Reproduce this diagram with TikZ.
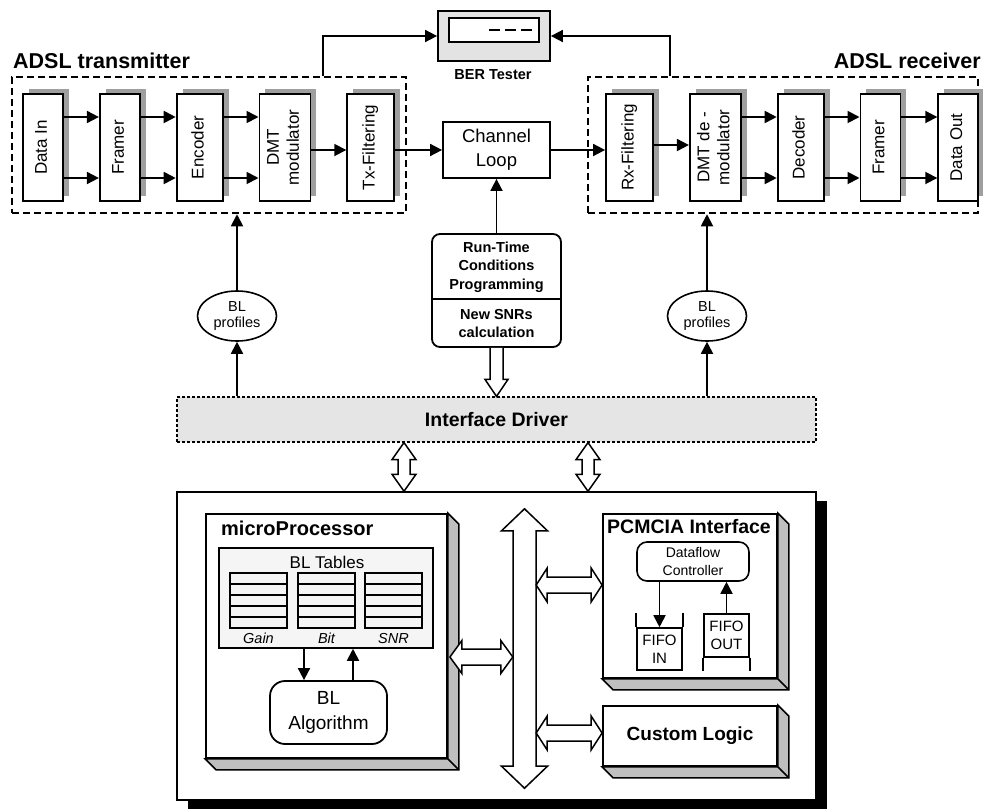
\documentclass[tikz,border=0pt]{standalone}
\usepackage{fontspec}
\setmainfont{Liberation Sans}
\usetikzlibrary{arrows.meta, calc, shadows, shapes.geometric, positioning}

% rotated, possibly two-line block text
\newcommand{\vtxt}[1]{\rotatebox{90}{\begin{tabular}{@{}c@{}}#1\end{tabular}}}

% gray side faces of a raised box
\newcommand{\extrude}[1]{%
  \draw[line width=1.5pt, fill=gray!50] (#1.north east) -- ++(11,11) -- ($(#1.south east)+(11,11)$)
    -- ($(#1.south west)+(11,11)$) -- (#1.south west) -- (#1.south east) -- cycle;
  \draw[line width=1.5pt] (#1.south east) -- ++(11,11);}

% hollow double arrow, vertical: half shaft, half head, head length, top end, bottom end
\newcommand{\fatv}[5]{%
  \draw[fat] let \p1=#4, \p2=#5 in
    (\x1,\y1) -- (\x1+#2,\y1-#3) -- (\x1+#1,\y1-#3) -- (\x1+#1,\y2+#3) -- (\x1+#2,\y2+#3)
    -- (\x1,\y2) -- (\x1-#2,\y2+#3) -- (\x1-#1,\y2+#3) -- (\x1-#1,\y1-#3) -- (\x1-#2,\y1-#3) -- cycle;}

% hollow double arrow, horizontal: left end, right end (height taken from the right end)
\newcommand{\fath}[5]{%
  \draw[fat] let \p1=#4, \p2=#5 in
    (\x1,\y2) -- (\x1+#3,\y2+#2) -- (\x1+#3,\y2+#1) -- (\x2-#3,\y2+#1) -- (\x2-#3,\y2+#2)
    -- (\x2,\y2) -- (\x2-#3,\y2-#2) -- (\x2-#3,\y2-#1) -- (\x1+#3,\y2-#1) -- (\x1+#3,\y2-#2) -- cycle;}

% hollow single arrow pointing down
\newcommand{\fatdown}[5]{%
  \draw[fat] let \p1=#4, \p2=#5 in
    (\x1-#1,\y1) -- (\x1-#1,\y2+#3) -- (\x1-#2,\y2+#3) -- (\x1,\y2) -- (\x1+#2,\y2+#3)
    -- (\x1+#1,\y2+#3) -- (\x1+#1,\y1);}

\tikzset{
  blk/.style={draw, line width=1.8pt, fill=white, inner sep=0pt, minimum height=107pt,
    general shadow={fill=gray!75, shadow xshift=6pt, shadow yshift=5pt},
    font=\fontsize{17}{20}\selectfont},
  grp/.style={draw, line width=2.5pt, dash pattern=on 7pt off 4pt, inner sep=0pt},
  arr/.style={line width=1.8pt, -{Triangle[length=12pt,width=12pt]}},
  fat/.style={draw, line width=1.5pt, fill=white},
  card/.style={draw, line width=1.8pt, fill=white, inner sep=0pt},
  ttl/.style={font=\bfseries\fontsize{20}{24}\selectfont, inner sep=0pt},
  bigttl/.style={font=\bfseries\fontsize{21.5}{24}\selectfont, inner sep=0pt},
  inbox/.style={draw, line width=1.6pt, inner sep=0pt, align=center},
  grid/.style={line width=1.6pt},
}

\begin{document}
\begin{tikzpicture}[x=1pt, y=-1pt]
  \useasboundingbox (0,0) rectangle (983,809);

  % Transmitter and receiver groups
  \node[grp, minimum width=394pt, minimum height=136pt] (tx) at (209,145) {};
  \node[grp, minimum width=390pt, minimum height=136pt] (rx) at (783,145) {};
  \node[bigttl, anchor=base west] (txl) at (13,68) {ADSL transmitter};
  \node[bigttl, anchor=base east] (rxl) at (981,68) {ADSL receiver};

  % Transmitter chain
  \node[blk, minimum width=40pt] (din) at (43,147.5) {\vtxt{Data In}};
  \node[blk, minimum width=40pt, right=35pt of din] (tfrm) {\vtxt{Framer}};
  \node[blk, minimum width=46pt, right=35pt of tfrm] (enc) {\vtxt{Encoder}};
  \node[blk, minimum width=51pt, right=35pt of enc] (mod) {\vtxt{DMT\\modulator}};
  \node[blk, minimum width=47pt, right=35pt of mod] (txf) {\vtxt{Tx-Filtering}};

  % Receiver chain
  \node[blk, minimum width=47pt] (rxf) at (629.5,147.5) {\vtxt{Rx-Filtering}};
  \node[blk, minimum width=51pt, right=35pt of rxf] (dem) {\vtxt{DMT de -\\modulator}};
  \node[blk, minimum width=46pt, right=35pt of dem] (dec) {\vtxt{Decoder}};
  \node[blk, minimum width=40pt, right=35pt of dec] (rfrm) {\vtxt{Framer}};
  \node[blk, minimum width=40pt, right=36pt of rfrm] (dout) {\vtxt{Data Out}};

  \coordinate (hi) at (0,117);
  \coordinate (lo) at (0,178);
  \coordinate (mid) at (0,150);
  \foreach \a/\b in {din/tfrm, tfrm/enc, enc/mod, dem/dec, dec/rfrm, rfrm/dout} {
    \draw[arr] (\a.east |- hi) -- (\b.west |- hi);
    \draw[arr] (\a.east |- lo) -- (\b.west |- lo);
  }
  \draw[arr] (mod.east |- mid) -- (txf.west |- mid);
  \draw[arr] (rxf.east |- 0,145) -- (dem.west |- 0,145);

  % BER tester
  \node[draw, line width=1.8pt, fill=gray!22, minimum width=112pt, minimum height=50pt] (ber) at (494,36) {};
  \node[draw, line width=1.6pt, fill=white, minimum width=90pt, minimum height=24pt] (disp) at (494,30) {};
  \draw[line width=1.6pt, dash pattern=on 11pt off 5pt] ([xshift=-5pt]disp.center) -- ([xshift=39pt]disp.center);
  \node[font=\bfseries\fontsize{14.5}{17}\selectfont] (berl) at (493,75) {BER Tester};
  \draw[arr] ([xshift=114pt]tx.north) |- (ber.west);
  \draw[arr] ([xshift=-113pt]rx.north) |- (ber.east);

  % Channel
  \node[card, minimum width=107pt, minimum height=56pt, align=center,
    font=\fontsize{18.5}{24}\selectfont] (chl) at (496.5,150) {Channel\\Loop};
  \draw[arr] (txf.east |- mid) -- (chl.west);
  \draw[arr] (chl.east) -- (rxf.west |- mid);

  % Run-time conditions
  \node[card, rounded corners=8pt, minimum width=129pt, minimum height=113pt] (rt) at (496.5,290.5) {};
  \draw[line width=1.6pt] (rt.west |- 0,299) -- (rt.east |- 0,299);
  \node[font=\bfseries\fontsize{14.5}{18.5}\selectfont, align=center] (rtup) at (496.5,267)
    {Run-Time\\Conditions\\Programming};
  \node[font=\bfseries\fontsize{14.5}{18.5}\selectfont, align=center] (rtlo) at (496.5,323.5)
    {New SNRs\\calculation};
  \draw[arr] (rt.north) -- (chl.south);

  % Interface driver
  \node[draw, line width=1.2pt, dash pattern=on 3pt off 2pt, fill=gray!20, minimum width=639pt,
    minimum height=45pt, font=\bfseries\fontsize{19.5}{22}\selectfont] (drv) at (496.5,419.5) {Interface Driver};
  \fatdown{6.5pt}{11.5pt}{17pt}{(rt.south)}{(drv.north)}

  % Bit loading profiles
  \node[draw, ellipse, line width=1.6pt, minimum width=79pt, minimum height=50pt, inner sep=0pt,
    align=center, font=\fontsize{14.5}{16.5}\selectfont] (blt) at (237,316) {BL\\profiles};
  \node[draw, ellipse, line width=1.6pt, minimum width=79pt, minimum height=50pt, inner sep=0pt,
    align=center, font=\fontsize{14.5}{16.5}\selectfont] (blr) at (707,316) {BL\\profiles};
  \foreach \e/\g in {blt/tx, blr/rx} {
    \draw[arr] (\e.north) -- (\e |- \g.south);
    \draw[arr] (\e |- drv.north) -- (\e.south);
  }

  % Board
  \node[draw, line width=1.5pt, fill=white, general shadow={fill=black, shadow xshift=11pt, shadow yshift=-9pt},
    minimum width=639pt, minimum height=308pt] (brd) at (496.5,646) {};
  \fatv{6pt}{12pt}{17pt}{([xshift=-92.5pt]drv.south)}{(brd.north)}
  \fatv{6pt}{12pt}{17pt}{([xshift=91.5pt]drv.south)}{(brd.north)}

  % microprocessor
  \node[card, minimum width=241pt, minimum height=244pt] (cpu) at (326.5,636) {};
  \extrude{cpu}
  \node[ttl, anchor=base west] (cpul) at (221,535) {microProcessor};
  \node[draw, line width=1.5pt, fill=gray!8, minimum width=214pt, minimum height=100pt] (tbl) at (326,598) {};
  \node[font=\fontsize{17}{20}\selectfont] (tbll) at (327,562) {BL Tables};
  \foreach \gx/\gl in {230/Gain, 298/Bit, 365/SNR} {
    \draw[grid] (\gx,573) rectangle ++(57,55);
    \foreach \r in {1,...,4}
      \draw[grid] (\gx,{573+11*\r}) -- ++(57,0);
    \node[font=\itshape\fontsize{14.5}{16}\selectfont] (col\gl) at ({\gx+28.5},638) {\gl};
  }
  \node[card, rounded corners=15pt, minimum width=117pt, minimum height=63pt, align=center,
    font=\fontsize{19}{25}\selectfont] (alg) at (328.5,712.5) {BL\\Algorithm};
  \draw[arr] (tbl.south -| 304,0) -- (alg.north -| 304,0);
  \draw[arr] (alg.north -| 353,0) -- (tbl.south -| 353,0);

  % PCMCIA interface
  \node[card, minimum width=174pt, minimum height=164pt] (pcm) at (690,596) {};
  \extrude{pcm}
  \node[ttl, font=\bfseries\fontsize{19.5}{24}\selectfont, anchor=base west] (pcml) at (607,533) {PCMCIA Interface};
  \node[inbox, rounded corners=10pt, minimum width=112pt, minimum height=39pt,
    font=\fontsize{14}{18}\selectfont] (dfc) at (693,561.5) {Dataflow\\Controller};
  \node[inbox, minimum width=45pt, minimum height=42pt, font=\fontsize{15}{18}\selectfont] (fin) at (659.5,649) {FIFO\\IN};
  \node[inbox, minimum width=45pt, minimum height=43pt, font=\fontsize{15}{18}\selectfont] (fout) at (726.5,635.5) {FIFO\\OUT};
  \draw[grid] (fin.north west) -- ++(0,-14);
  \draw[grid] (fin.north east) -- ++(0,-14);
  \draw[grid] (fout.south west) -- ++(0,13);
  \draw[grid] (fout.south east) -- ++(0,13);
  \draw[arr] (dfc.south -| fin) -- (fin.north);
  \draw[arr] (fout.north) -- (dfc.south -| fout);

  % Custom logic
  \node[card, minimum width=174pt, minimum height=60pt, font=\bfseries\fontsize{19}{22}\selectfont] (cst) at (690,736) {Custom Logic};
  \extrude{cst}

  % Internal bus
  \node[minimum width=23pt, minimum height=279pt, inner sep=0pt] (bus) at (524.5,648.5) {};
  \fatv{11.5pt}{23pt}{22pt}{(bus.north)}{(bus.south)}
  \fath{8pt}{16.5pt}{12pt}{([xshift=2pt]cpu.east)}{([yshift=-8.5pt]bus.west)}
  \fath{8pt}{17pt}{11pt}{(bus.east)}{([yshift=11pt]pcm.west)}
  \fath{8pt}{17pt}{11pt}{(bus.east)}{([yshift=3pt]cst.west)}
\end{tikzpicture}
\end{document}
